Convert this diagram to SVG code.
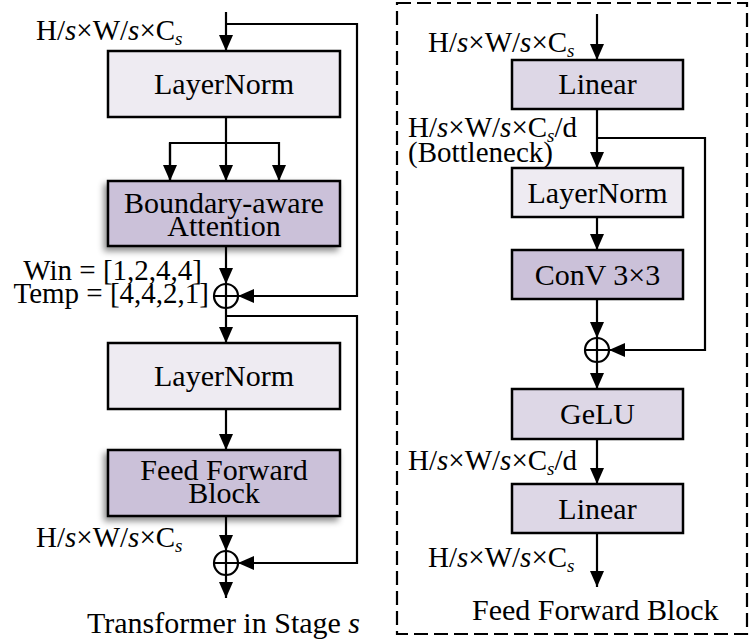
<svg xmlns="http://www.w3.org/2000/svg" width="750" height="640" viewBox="0 0 750 640" font-family="Liberation Serif, Times New Roman, serif">
<style>
text{font-family:'Liberation Serif','Times New Roman',serif;font-size:30px;fill:#000}
.lbl{font-size:29px}
.it{font-style:italic}
.sub{font-style:italic;font-size:19px}
.box{stroke:#000;stroke-width:2.5}
.light{fill:#eeebf2}
.mid{fill:#ddd7e6}
.dark{fill:#cbc1d9}
.c{text-anchor:middle}
.ln{fill:none;stroke:#000;stroke-width:2.2}
.sum{fill:none;stroke:#000;stroke-width:2.2}
</style>
<defs>
<marker id="ah" viewBox="0 0 16 14" refX="16" refY="7" markerWidth="16" markerHeight="14" markerUnits="userSpaceOnUse" orient="auto">
<path d="M0,0 L16,7 L0,14 z" fill="#000"/>
</marker>
<filter id="sh" x="-20%" y="-20%" width="140%" height="150%">
<feDropShadow dx="-3" dy="4" stdDeviation="3" flood-color="#000" flood-opacity="0.45"/>
</filter>
</defs>

<g id="connectors">
<path class="ln" d="M226,12 V51" marker-end="url(#ah)"/>
<path class="ln" d="M226,24 H357 V296 H238" marker-end="url(#ah)"/>
<path class="ln" d="M226,117 V181" marker-end="url(#ah)"/>
<path class="ln" d="M170,181 V143 H279 V181" marker-end="url(#ah)"/>
<path class="ln" d="M170,143 V181" marker-end="url(#ah)"/>
<path class="ln" d="M226,246 V284" marker-end="url(#ah)"/>
<path class="ln" d="M226,308 V343" marker-end="url(#ah)"/>
<path class="ln" d="M226,316 H357 V563 H238" marker-end="url(#ah)"/>
<path class="ln" d="M226,409 V450" marker-end="url(#ah)"/>
<path class="ln" d="M226,516 V551" marker-end="url(#ah)"/>
<path class="ln" d="M226,575 V598" marker-end="url(#ah)"/>
<path class="ln" d="M597,14 V60" marker-end="url(#ah)"/>
<path class="ln" d="M597,109 V168" marker-end="url(#ah)"/>
<path class="ln" d="M597,138 H705 V350 H609" marker-end="url(#ah)"/>
<path class="ln" d="M597,217 V250" marker-end="url(#ah)"/>
<path class="ln" d="M597,299 V338" marker-end="url(#ah)"/>
<path class="ln" d="M597,362 V389" marker-end="url(#ah)"/>
<path class="ln" d="M597,439 V484" marker-end="url(#ah)"/>
<path class="ln" d="M597,533 V587" marker-end="url(#ah)"/>
</g>

<g id="ln1"><rect class="box light" x="108" y="51" width="232" height="66"/><text class="c" x="224" y="94">LayerNorm</text></g>
<g id="attn"><rect class="box dark" x="108" y="181" width="232" height="65" filter="url(#sh)"/><text class="c" x="224" y="213">Boundary-aware</text><text class="c" x="224" y="236">Attention</text></g>
<g id="add1"><circle class="sum" cx="226" cy="296" r="12"/><path class="sum" d="M214,296 H238 M226,284 V308"/></g>
<g id="ln2"><rect class="box light" x="108" y="343" width="232" height="66"/><text class="c" x="224" y="386">LayerNorm</text></g>
<g id="ffb"><rect class="box dark" x="108" y="450" width="232" height="66" filter="url(#sh)"/><text class="c" x="224" y="480">Feed Forward</text><text class="c" x="224" y="503">Block</text></g>
<g id="add2"><circle class="sum" cx="226" cy="563" r="12"/><path class="sum" d="M214,563 H238 M226,551 V575"/></g>

<g id="left-labels">
<text class="lbl" x="36" y="40">H/<tspan class="it">s</tspan>×W/<tspan class="it">s</tspan>×C<tspan class="sub" dy="5">s</tspan></text>
<text class="lbl" x="202" y="280" text-anchor="end">Win = [1,2,4,4]</text>
<text class="lbl" x="209" y="303" text-anchor="end">Temp = [4,4,2,1]</text>
<text class="lbl" x="36" y="547">H/<tspan class="it">s</tspan>×W/<tspan class="it">s</tspan>×C<tspan class="sub" dy="5">s</tspan></text>
<text x="87" y="633">Transformer in Stage <tspan class="it">s</tspan></text>
</g>

<g id="ffb-panel"><rect x="397" y="3" width="350" height="631" fill="none" stroke="#000" stroke-width="2.2" stroke-dasharray="14 6"/></g>
<g id="lin1"><rect class="box mid" x="512" y="60" width="171" height="49"/><text class="c" x="597.5" y="94">Linear</text></g>
<g id="ln3"><rect class="box light" x="512" y="168" width="171" height="49"/><text class="c" x="597.5" y="203">LayerNorm</text></g>
<g id="conv"><rect class="box dark" x="512" y="250" width="171" height="49"/><text class="c" x="597.5" y="285">ConV 3×3</text></g>
<g id="add3"><circle class="sum" cx="597" cy="350" r="12"/><path class="sum" d="M585,350 H609 M597,338 V362"/></g>
<g id="gelu"><rect class="box mid" x="512" y="389" width="171" height="50"/><text class="c" x="597.5" y="424">GeLU</text></g>
<g id="lin2"><rect class="box mid" x="512" y="484" width="171" height="49"/><text class="c" x="597.5" y="519">Linear</text></g>

<g id="right-labels">
<text class="lbl" x="428" y="52">H/<tspan class="it">s</tspan>×W/<tspan class="it">s</tspan>×C<tspan class="sub" dy="5">s</tspan></text>
<text class="lbl" x="408" y="137">H/<tspan class="it">s</tspan>×W/<tspan class="it">s</tspan>×C<tspan class="sub" dy="5">s</tspan><tspan dy="-5">/d</tspan></text>
<text class="lbl" x="408" y="162">(Bottleneck)</text>
<text class="lbl" x="408" y="470">H/<tspan class="it">s</tspan>×W/<tspan class="it">s</tspan>×C<tspan class="sub" dy="5">s</tspan><tspan dy="-5">/d</tspan></text>
<text class="lbl" x="428" y="567">H/<tspan class="it">s</tspan>×W/<tspan class="it">s</tspan>×C<tspan class="sub" dy="5">s</tspan></text>
<text x="472" y="620">Feed Forward Block</text>
</g>
</svg>
